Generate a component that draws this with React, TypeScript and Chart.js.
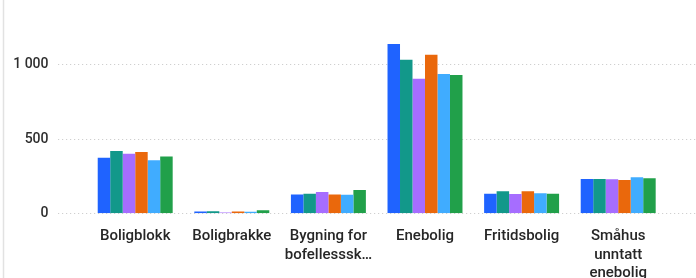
import React, { useEffect, useRef } from "react";
import { Chart, registerables } from "chart.js";

Chart.register(...registerables);

const categories: (string | string[])[] = [
  "Boligblokk",
  "Boligbrakke",
  ["Bygning for", "bofellesssk…"],
  "Enebolig",
  "Fritidsbolig",
  ["Småhus", "unntatt", "enebolig"],
];

const seriesNames = ["2018", "2019", "2020", "2021", "2022", "2023"];
const series1 = [373, 12, 127, 1136, 132, 230];
const series2 = [418, 14, 132, 1031, 148, 230];
const series3 = [400, 5, 143, 903, 130, 228];
const series4 = [411, 12, 127, 1064, 148, 223];
const series5 = [356, 10, 125, 935, 134, 242];
const series6 = [382, 20, 156, 928, 132, 235];
const seriesColors = ["#1F63FF", "#12988A", "#A66DFF", "#EA680C", "#40ACFF", "#21A04A"];
const yTicks = [0, 500, 1000];
const yTickLabels = ["0", "500", "1 000"];

const gridPlugin = {
  id: "customGrid",
  beforeDatasetsDraw(chart: any) {
    const ctx = chart.ctx;
    const y = chart.scales.y;
    ctx.save();
    ctx.strokeStyle = "#cfcfcf";
    ctx.lineWidth = 1;
    ctx.setLineDash([1.2, 2.8]);
    yTicks.forEach((v) => {
      const py = Math.round(y.getPixelForValue(v)) + 0.5;
      ctx.beginPath();
      ctx.moveTo(58, py);
      ctx.lineTo(chart.width, py);
      ctx.stroke();
    });
    ctx.restore();
    ctx.save();
    ctx.fillStyle = "#2e2e2e";
    ctx.font = "500 14px Roboto";
    ctx.textAlign = "right";
    ctx.textBaseline = "middle";
    yTicks.forEach((v, i) => {
      ctx.fillText(yTickLabels[i], 48.5, y.getPixelForValue(v) + 0.5);
    });
    ctx.restore();
  },
  afterDraw(chart: any) {
    const ctx = chart.ctx;
    ctx.save();
    ctx.strokeStyle = "#e2e2e2";
    ctx.lineWidth = 1.5;
    ctx.beginPath();
    ctx.moveTo(3.5, 0);
    ctx.lineTo(3.5, chart.height);
    ctx.stroke();
    ctx.restore();
  },
};

export default function App() {
  const ref = useRef<HTMLCanvasElement | null>(null);
  useEffect(() => {
    if (!ref.current) return;
    const data = [series1, series2, series3, series4, series5, series6];
    const chart = new Chart(ref.current, {
      type: "bar",
      data: {
        labels: categories,
        datasets: data.map((d, i) => ({
          label: seriesNames[i],
          data: d,
          backgroundColor: seriesColors[i],
          borderWidth: 0,
          categoryPercentage: 0.776,
          barPercentage: 1,
        })),
      },
      options: {
        responsive: false,
        animation: false,
        devicePixelRatio: 1,
        layout: { padding: { left: 0, right: 29.5, top: 19.6, bottom: 0 } },
        plugins: { legend: { display: false }, tooltip: { enabled: false } },
        scales: {
          x: {
            grid: { display: false, drawTicks: false, tickLength: 0 },
            border: { display: false },
            ticks: {
              color: "#262626",
              font: { family: "Roboto", size: 15, weight: 500, lineHeight: 1.233 },
              padding: 14,
              maxRotation: 0,
              autoSkip: false,
            },
            afterFit: (s: any) => {
              s.height = 64.7;
            },
          },
          y: {
            min: 0,
            max: 1300,
            grid: { display: false, drawTicks: false, tickLength: 0 },
            border: { display: false },
            ticks: { display: false, stepSize: 500 },
            afterFit: (s: any) => {
              s.width = 86.9;
            },
          },
        },
      },
      plugins: [gridPlugin],
    });
    return () => chart.destroy();
  }, []);
  return (
    <div style={{ position: "fixed", left: 0, top: 0, width: 696, height: 278, background: "#fff" }}>
      <canvas ref={ref} width={696} height={278} style={{ display: "block" }} />
    </div>
  );
}
